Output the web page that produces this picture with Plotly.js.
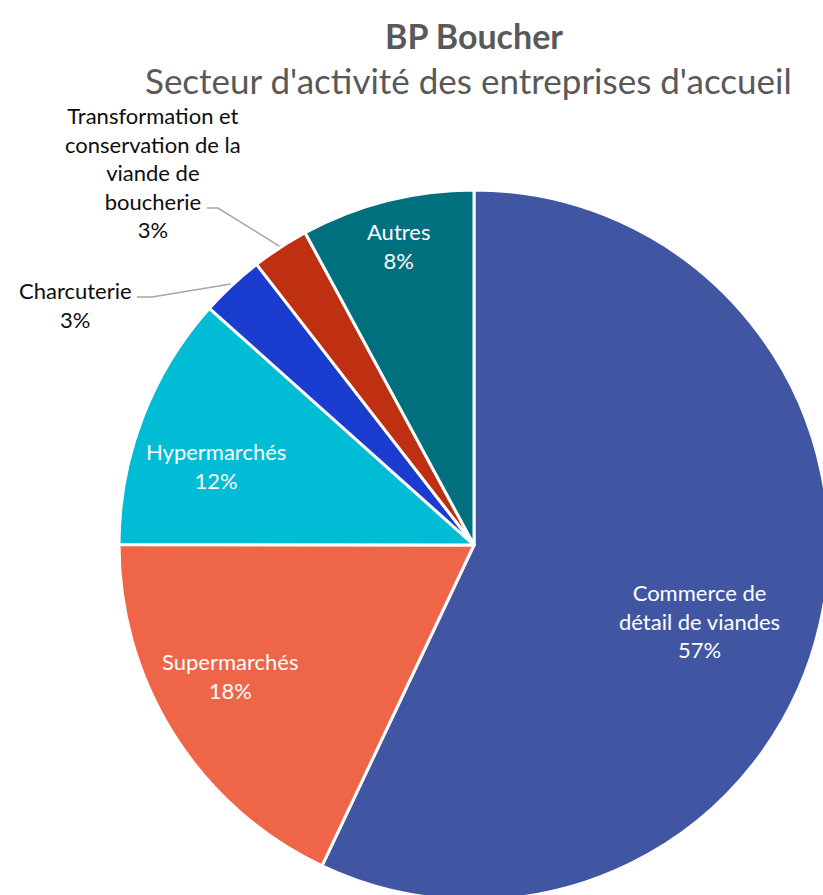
<!DOCTYPE html>
<html>
<head>
<meta charset="utf-8">
<script src="https://cdn.plot.ly/plotly-3.0.1.min.js"></script>
<style>
html, body { margin: 0; padding: 0; overflow: hidden; background: #fff; }
#chart { width: 829px; height: 900px; }
</style>
</head>
<body>
<div id="chart"></div>
<script>
const categories = [
  "Commerce de détail de viandes",
  "Supermarchés",
  "Hypermarchés",
  "Charcuterie",
  "Transformation et conservation de la viande de boucherie",
  "Autres"
];
const displayLabels = [
  "Commerce de<br>détail de viandes",
  "Supermarchés",
  "Hypermarchés",
  "Charcuterie",
  "Transformation et<br>conservation de la<br>viande de<br>boucherie",
  "Autres"
];
const values = [57.1, 18.0, 11.6, 2.9, 2.6, 7.9];
const colors = ["#4156A3", "#EF6548", "#00BCD5", "#1A3CCF", "#BF2F12", "#00707F"];

// label placement (style): inside labels along the slice mid-angle
const labelInside = [true, true, true, false, false, true];
const labelRadius = [0.67, 0.78, 0.76, 0, 0, 0.87];
const labelAngleShift = [6, 4, -4, 0, 0, 0];
// outside labels: text centre (px) and leader-line start/elbow (px)
const outsideLabelPos = { 3: [75, 305], 4: [153, 172] };
const leaderStart = { 3: [[137, 297], [152, 297]], 4: [[207, 208], [218, 208]] };

// plot area geometry (px)
const W = 829, H = 900, ML = 119, MT = 190, PW = 710, PH = 710;
const px2x = p => (p - ML) / PW;
const py2y = p => (H - p) / PH;

const total = values.reduce((a, b) => a + b, 0);
const annotations = [
  { text: "<b>BP Boucher</b>", xref: "paper", yref: "paper", x: px2x(474), y: py2y(35),
    xanchor: "center", yanchor: "middle", showarrow: false,
    font: { family: "Lato, sans-serif", size: 34, color: "#595959" } },
  { text: "Secteur d'activité des entreprises d'accueil", xref: "paper", yref: "paper",
    x: px2x(468), y: py2y(80), xanchor: "center", yanchor: "middle", showarrow: false,
    font: { family: "Lato, sans-serif", size: 35, color: "#595959" } }
];
const shapes = [];
let cum = 0;
values.forEach((v, i) => {
  const midFrac = (cum + v / 2) / total;
  cum += v;
  const pct = Math.round(v / total * 100) + "%";
  const text = displayLabels[i] + "<br>" + pct;
  if (labelInside[i]) {
    const th = (midFrac * 360 + labelAngleShift[i]) * Math.PI / 180;
    annotations.push({
      text: text, xref: "paper", yref: "paper",
      x: 0.5 + 0.5 * labelRadius[i] * Math.sin(th),
      y: 0.5 + 0.5 * labelRadius[i] * Math.cos(th),
      xanchor: "center", yanchor: "middle", showarrow: false, align: "center",
      font: { family: "Lato, sans-serif", size: 22, color: "#ffffff" }
    });
  } else {
    const th = midFrac * 2 * Math.PI;
    const ex = 0.5 + 0.5 * 1.005 * Math.sin(th);
    const ey = 0.5 + 0.5 * 1.005 * Math.cos(th);
    const p = outsideLabelPos[i];
    annotations.push({
      text: text, xref: "paper", yref: "paper",
      x: px2x(p[0]), y: py2y(p[1]),
      xanchor: "center", yanchor: "middle", showarrow: false, align: "center",
      font: { family: "Lato, sans-serif", size: 22, color: "#0d0d0d" }
    });
    const s = leaderStart[i];
    shapes.push({
      type: "path", xref: "paper", yref: "paper",
      path: "M " + px2x(s[0][0]) + "," + py2y(s[0][1]) +
            " L " + px2x(s[1][0]) + "," + py2y(s[1][1]) +
            " L " + ex + "," + ey,
      line: { color: "#A6A6A6", width: 1.5 }
    });
  }
});

const trace = {
  type: "pie",
  labels: categories,
  values: values,
  textinfo: "none",
  hoverinfo: "label+percent",
  marker: { colors: colors, line: { color: "#ffffff", width: 3 } },
  sort: false,
  direction: "clockwise",
  rotation: 0,
  showlegend: false
};

const layout = {
  width: W,
  height: H,
  margin: { l: ML, r: W - ML - PW, t: MT, b: H - MT - PH },
  paper_bgcolor: "#ffffff",
  showlegend: false,
  annotations: annotations,
  shapes: shapes
};

Plotly.newPlot("chart", [trace], layout, { displayModeBar: false, staticPlot: true });
</script>
</body>
</html>
